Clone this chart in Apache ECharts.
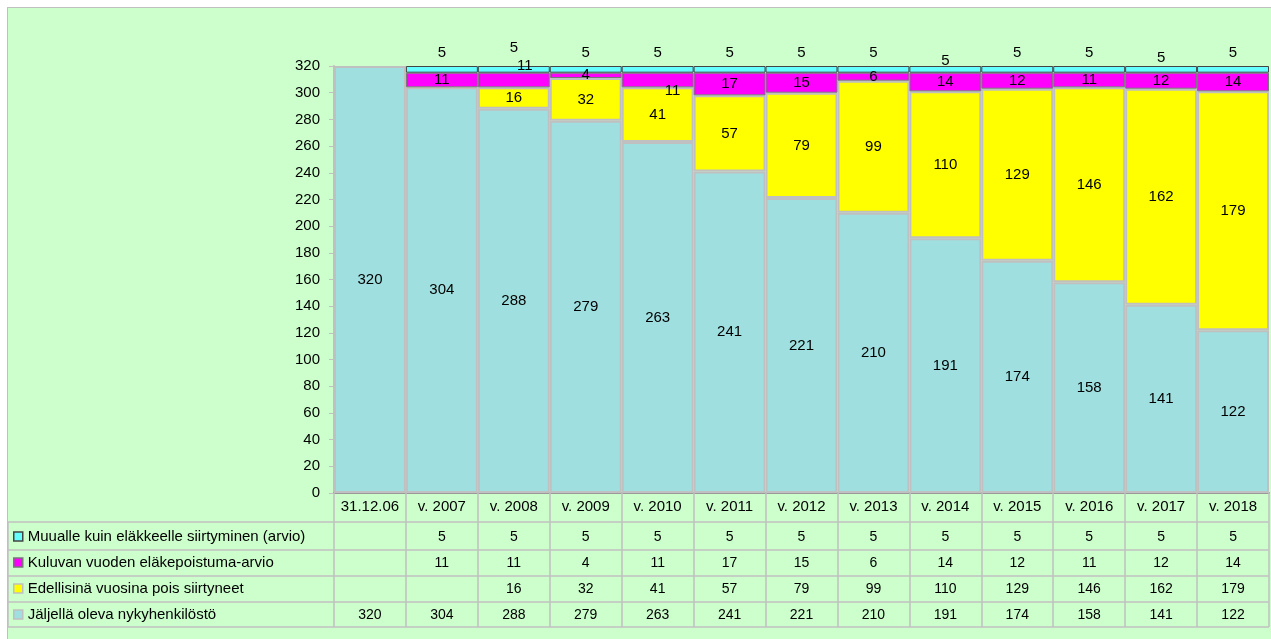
<!DOCTYPE html>
<html>
<head>
<meta charset="utf-8">
<script src="https://cdn.jsdelivr.net/npm/echarts@6/dist/echarts.min.js"></script>
<style>
  html, body { margin: 0; padding: 0; background: #fff; }
  #wrap { position: relative; width: 1271px; height: 639px; }
  #panel { position: absolute; left: 7px; top: 7px; width: 1264px; height: 632px;
           background: #ccffcc; border-left: 1.5px solid #c0c0c0; border-top: 1.5px solid #c0c0c0; }
  #chart { position: absolute; left: 0; top: 0; width: 1271px; height: 639px; }
</style>
</head>
<body>
<div id="wrap">
  <div id="panel"></div>
  <div id="chart"></div>
</div>
<script>
// categories and series values
const categories = ["31.12.06", "v. 2007", "v. 2008", "v. 2009", "v. 2010", "v. 2011", "v. 2012",
  "v. 2013", "v. 2014", "v. 2015", "v. 2016", "v. 2017", "v. 2018"];
const muualle = [null, 5, 5, 5, 5, 5, 5, 5, 5, 5, 5, 5, 5];
const kuluvan = [null, 11, 11, 4, 11, 17, 15, 6, 14, 12, 11, 12, 14];
const edellisina = [null, null, 16, 32, 41, 57, 79, 99, 110, 129, 146, 162, 179];
const jaljella = [320, 304, 288, 279, 263, 241, 221, 210, 191, 174, 158, 141, 122];

const names = {
  muualle: "Muualle kuin eläkkeelle siirtyminen (arvio)",
  kuluvan: "Kuluvan vuoden eläkepoistuma-arvio",
  edellisina: "Edellisinä vuosina pois siirtyneet",
  jaljella: "Jäljellä oleva nykyhenkilöstö"
};

// a few data labels were dragged by hand in the original
const nudgeMuualle = { 2: [0, -5], 8: [0, 8], 11: [0, 5] };
const nudgeKuluvan = { 2: [11, -14], 4: [15, 11] };

const FONT = "'Liberation Sans', Arial, sans-serif";
const txt = "#000";

function withNudge(values, nudge) {
  return values.map((v, i) => nudge[i] ? { value: v, label: { offset: nudge[i] } } : v);
}

const rowCenters = [537, 563, 589, 615];
const tableRows = [muualle, kuluvan, edellisina, jaljella];
const tableNames = [names.muualle, names.kuluvan, names.edellisina, names.jaljella];

const chart = echarts.init(document.getElementById("chart"));

const extraAxes = tableRows.map((vals, k) => ({
  type: "category",
  data: categories,
  position: "bottom",
  offset: rowCenters[k] - 507,
  axisLine: { show: false },
  axisTick: { show: false },
  axisLabel: {
    interval: 0, margin: 14, verticalAlign: "middle",
    color: txt, fontSize: 14, fontFamily: FONT,
    formatter: (v, i) => (vals[i] == null ? "" : String(vals[i]))
  }
}));

const lineStyle = { stroke: "#c0c0c0", lineWidth: 1.5 };
const hLines = [522, 550, 576, 602, 627].map(y => ({
  type: "line", shape: { x1: 8, y1: y, x2: 1269, y2: y }, style: lineStyle, silent: true
}));

const barLabel = {
  show: true, color: txt, fontSize: 15, fontFamily: FONT
};

chart.setOption({
  animation: false,
  textStyle: { fontFamily: FONT },
  grid: { left: 334, right: 2, top: 66, height: 427 },
  legend: tableNames.map((n, k) => ({
    data: [n],
    orient: "vertical",
    left: 13,
    top: rowCenters[k] - 8,
    padding: 0,
    itemWidth: 9,
    itemHeight: 9,
    selectedMode: false,
    icon: "rect",
    itemStyle: { borderWidth: 1.5 },
    textStyle: { color: txt, fontSize: 15, fontFamily: FONT }
  })),
  xAxis: [{
    type: "category",
    data: categories,
    position: "bottom",
    axisLine: { lineStyle: { color: "#999", width: 2 } },
    axisTick: { show: true, interval: 0, length: 134, lineStyle: { color: "#c0c0c0", width: 1.5 } },
    axisLabel: { interval: 0, margin: 14, verticalAlign: "middle", color: txt, fontSize: 15, fontFamily: FONT }
  }].concat(extraAxes),
  yAxis: {
    type: "value",
    min: 0, max: 320, interval: 20,
    splitLine: { show: false },
    axisLine: { show: true, lineStyle: { color: "#c0c0c0", width: 2 } },
    axisTick: { show: true, length: 5, lineStyle: { color: "#c0c0c0" } },
    axisLabel: { margin: 14, color: txt, fontSize: 15, fontFamily: FONT }
  },
  series: [
    {
      name: names.jaljella, type: "bar", stack: "all", barCategoryGap: 0,
      data: jaljella,
      itemStyle: { color: "#a0dfe0", borderColor: "#c0c0c0", borderWidth: 2 },
      label: Object.assign({ position: "inside" }, barLabel)
    },
    {
      name: names.edellisina, type: "bar", stack: "all", barCategoryGap: 0,
      data: edellisina,
      itemStyle: { color: "#ffff00", borderColor: "#c0c0c0", borderWidth: 2 },
      label: Object.assign({ position: "inside" }, barLabel)
    },
    {
      name: names.kuluvan, type: "bar", stack: "all", barCategoryGap: 0,
      data: withNudge(kuluvan, nudgeKuluvan),
      itemStyle: { color: "#ff00ff", borderColor: "#777", borderWidth: 1 },
      label: Object.assign({ position: "inside" }, barLabel)
    },
    {
      name: names.muualle, type: "bar", stack: "all", barCategoryGap: 0,
      data: withNudge(muualle, nudgeMuualle),
      itemStyle: { color: "#66ffff", borderColor: "#444", borderWidth: 1 },
      label: Object.assign({ position: "top", distance: 6 }, barLabel)
    }
  ],
  graphic: hLines.concat([
    { type: "line", shape: { x1: 8, y1: 522, x2: 8, y2: 627 }, style: lineStyle, silent: true }
  ])
});
</script>
</body>
</html>
